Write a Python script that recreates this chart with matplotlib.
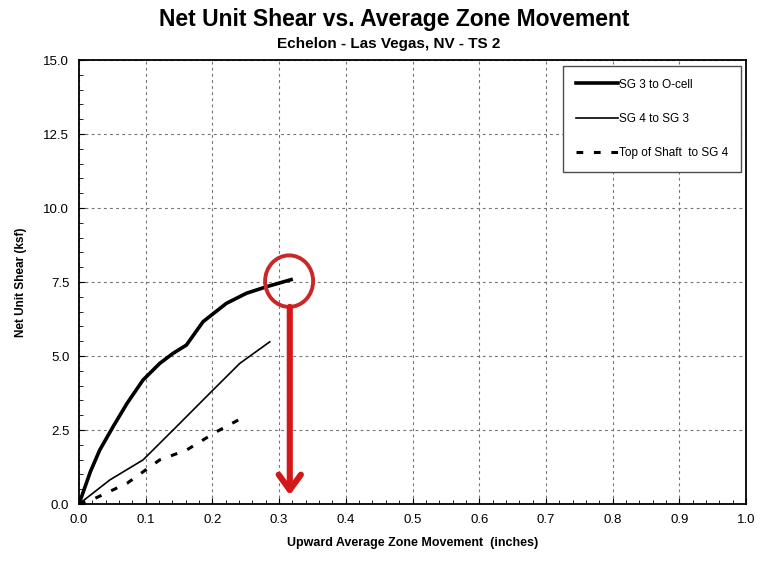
import matplotlib.pyplot as plt
from matplotlib.patches import Ellipse
from matplotlib.ticker import MultipleLocator

plt.rcParams['font.family'] = ['Liberation Sans', 'DejaVu Sans']

# zone movement (in) vs net unit shear (ksf)
sg3_x = [0.0, 0.017, 0.031, 0.051, 0.072, 0.096, 0.121, 0.141, 0.161, 0.186, 0.221, 0.251, 0.281, 0.318]
sg3_y = [0.0, 1.09, 1.82, 2.61, 3.40, 4.19, 4.75, 5.09, 5.37, 6.16, 6.78, 7.12, 7.34, 7.58]

sg4_x = [0.0, 0.046, 0.096, 0.146, 0.196, 0.241, 0.286]
sg4_y = [0.0, 0.81, 1.49, 2.61, 3.74, 4.75, 5.48]

top_x = [0.0, 0.021, 0.072, 0.121, 0.161, 0.206, 0.239]
top_y = [0.0, 0.16, 0.70, 1.49, 1.82, 2.44, 2.84]

fig = plt.figure(figsize=(7.62, 5.62), dpi=100)
ax = fig.add_axes([0.1037, 0.1032, 0.8753, 0.79])

ax.plot(sg3_x, sg3_y, color='black', lw=2.6, label='SG 3 to O-cell')
ax.plot(sg4_x, sg4_y, color='black', lw=1.2, label='SG 4 to SG 3')
ax.plot(top_x, top_y, color='black', lw=2.2, ls=(0, (2.2, 3.5)), label='Top of Shaft  to SG 4')

ax.set_xlim(0, 1.0)
ax.set_ylim(0, 15.0)
ax.xaxis.set_major_locator(MultipleLocator(0.1))
ax.xaxis.set_minor_locator(MultipleLocator(0.02))
ax.yaxis.set_major_locator(MultipleLocator(2.5))
ax.yaxis.set_minor_locator(MultipleLocator(0.5))
ax.xaxis.set_major_formatter(lambda v, p: f'{v:.1f}')
ax.yaxis.set_major_formatter(lambda v, p: f'{v:.1f}')
ax.tick_params(which='both', direction='in', labelsize=9.5, colors='black')
ax.tick_params(which='major', length=4, pad=7)
ax.tick_params(which='minor', length=3)
ax.grid(True, which='major', color='0.45', ls=(0, (2.5, 3)), lw=0.8)
for s in ax.spines.values():
    s.set_linewidth(1.3)

ax.set_xlabel('Upward Average Zone Movement  (inches)', fontsize=9, fontweight='bold', labelpad=8)
ax.set_ylabel('Net Unit Shear (ksf)', fontsize=8.5, fontweight='bold', labelpad=12)

fig.text(0.517, 0.966, 'Net Unit Shear vs. Average Zone Movement', ha='center', va='center',
         fontsize=16.5, fontweight='bold')
fig.text(0.51, 0.921, 'Echelon - Las Vegas, NV - TS 2', ha='center', va='center',
         fontsize=11, fontweight='bold')

leg = ax.legend(loc='upper right', bbox_to_anchor=(0.9985, 0.9955), fontsize=8.5, handlelength=3.6,
                handletextpad=0.1, labelspacing=1.9, borderpad=1.1, borderaxespad=0.3,
                fancybox=False, edgecolor='0.3', framealpha=1)
leg.get_frame().set_linewidth(1.0)

# red highlight on the end of the SG 3 curve
cx, cy = sg3_x[-1], sg3_y[-1]
ax.add_patch(Ellipse((cx - 0.003, cy - 0.05), 0.072, 1.74, fill=False, ec='#c8282a', lw=2.8, zorder=5))
ax.annotate('', xy=(cx - 0.002, 0.3), xytext=(cx - 0.002, cy - 0.92),
            arrowprops=dict(arrowstyle='->,head_width=0.8,head_length=1.1', color='#d41818',
                            lw=4.4, shrinkA=0, shrinkB=0),
            zorder=5)

fig.savefig('out.png', dpi=100)
